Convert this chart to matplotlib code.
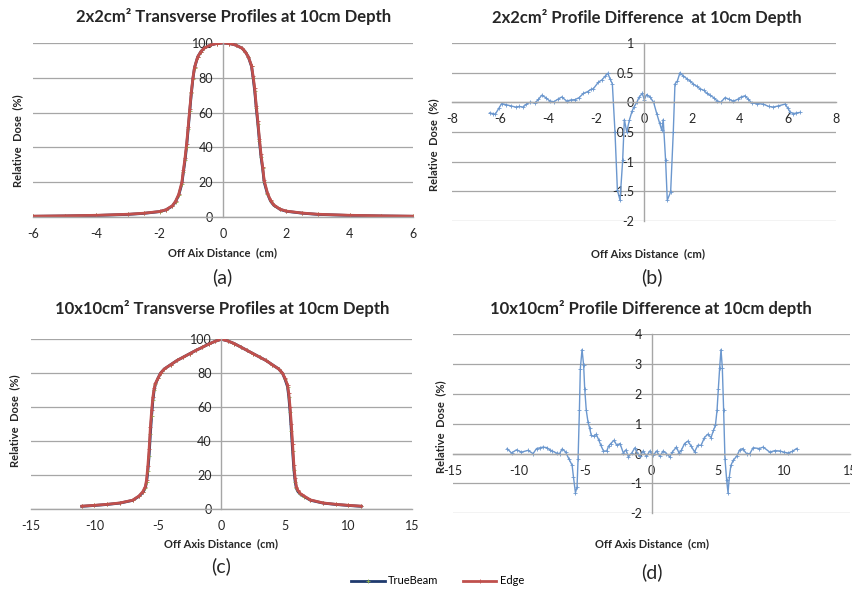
import matplotlib
matplotlib.use('Agg')
import matplotlib.pyplot as plt
from matplotlib.ticker import FormatStrFormatter

plt.rcParams['font.family'] = ['Lato', 'DejaVu Sans']
plt.rcParams['axes.unicode_minus'] = False

# ---- (a) 2x2 cm^2 profiles ----
x_a = [-6.0, -5.0, -4.0, -3.0, -2.5, -2.0, -1.8, -1.6, -1.5, -1.4, -1.3, -1.25, -1.2,
       -1.15, -1.1, -1.05, -1.0, -0.95, -0.9, -0.8, -0.7, -0.6, -0.4, -0.2, 0.0,
       0.2, 0.4, 0.6, 0.7, 0.8, 0.9, 0.95, 1.0, 1.05, 1.1, 1.15, 1.2, 1.25, 1.3,
       1.4, 1.5, 1.6, 1.8, 2.0, 2.5, 3.0, 4.0, 5.0, 6.0]
edge_a = [0.5, 0.7, 1.0, 1.6, 2.2, 3.2, 4.2, 6.5, 9.0, 13, 20, 27, 34,
          42, 52, 62, 72, 80, 86, 92, 95, 97, 98.8, 99.7, 100,
          99.7, 98.8, 97, 95, 92, 87, 81, 74, 64, 55, 45, 36, 29, 21,
          14, 9.5, 7.0, 4.5, 3.4, 2.3, 1.6, 1.0, 0.7, 0.5]
truebeam_a = [0.4, 0.6, 0.9, 1.5, 2.1, 3.1, 4.1, 6.3, 8.8, 12.5, 19, 26, 32.5,
              40.5, 50.5, 61, 71, 79.5, 85.8, 92, 95, 97, 98.8, 99.7, 100,
              99.7, 98.8, 97, 95, 92, 86.5, 80, 72.5, 62.5, 53.5, 43.5, 34.5, 28, 20,
              13.5, 9.2, 6.8, 4.4, 3.3, 2.2, 1.5, 0.9, 0.6, 0.4]

# ---- (b) 2x2 cm^2 difference ----
x_b = [-6.44, -6.3, -6.2, -6.05, -5.93, -5.75, -5.55, -5.35, -5.2, -5.04, -4.9, -4.75,
       -4.54, -4.4, -4.26, -4.1, -3.92, -3.75, -3.6, -3.43, -3.22, -3.05, -2.88, -2.7,
       -2.53, -2.35, -2.2, -2.11, -1.9, -1.75, -1.62, -1.51, -1.42, -1.32, -1.21, -1.11,
       -1.0, -0.89, -0.82, -0.72, -0.61, -0.5, -0.42, -0.3, -0.2, -0.07, 0.01, 0.11,
       0.25, 0.4, 0.53, 0.65, 0.74, 0.8, 0.9, 0.97, 1.11, 1.22, 1.29, 1.39,
       1.5, 1.62, 1.78, 1.92, 2.05, 2.2, 2.33, 2.5, 2.62, 2.75, 2.9, 3.03,
       3.2, 3.38, 3.55, 3.72, 3.9, 4.05, 4.21, 4.35, 4.49, 4.7, 4.97, 5.2,
       5.39, 5.6, 5.88, 6.0, 6.08, 6.22, 6.35, 6.5]
diff_b = [-0.18, -0.19, -0.2, -0.1, -0.02, -0.04, -0.06, -0.08, -0.07, -0.08, -0.03, 0.0,
          -0.01, 0.05, 0.12, 0.08, 0.02, 0.01, 0.05, 0.09, 0.02, 0.04, 0.045, 0.08,
          0.15, 0.18, 0.22, 0.23, 0.34, 0.38, 0.44, 0.49, 0.4, 0.31, -0.5, -1.48,
          -1.65, -0.98, -0.29, -0.5, -0.3, -0.15, -0.08, 0.0, 0.09, 0.15, 0.045, 0.13,
          0.09, 0.0, -0.19, -0.35, -0.47, -0.29, -0.98, -1.65, -1.51, -0.5, 0.31, 0.36,
          0.5, 0.45, 0.4, 0.36, 0.31, 0.27, 0.23, 0.2, 0.15, 0.12, 0.08, 0.03,
          0.0, 0.08, 0.05, 0.02, 0.05, 0.09, 0.11, 0.05, -0.01, -0.02, -0.03, -0.07,
          -0.08, -0.06, -0.03, -0.1, -0.16, -0.19, -0.18, -0.17]

# ---- (c) 10x10 cm^2 profiles ----
x_c = [-11, -10, -9, -8, -7, -6.5, -6.2, -6.0, -5.9, -5.8, -5.7, -5.6, -5.5, -5.4,
       -5.3, -5.2, -5.0, -4.8, -4.5, -4.0, -3.5, -3.0, -2.5, -2.0, -1.5, -1.0, -0.5,
       0.0, 0.5, 1.0, 1.5, 2.0, 2.5, 3.0, 3.5, 4.0, 4.5, 4.8, 5.0, 5.2, 5.3, 5.4,
       5.5, 5.6, 5.7, 5.8, 5.9, 6.0, 6.2, 6.5, 7.0, 8.0, 9.0, 10, 11]
edge_c = [1.5, 2.0, 2.6, 3.4, 5.0, 7.5, 10, 13, 17, 25, 35, 48, 58, 66,
          71, 74, 77, 80, 82.5, 85, 87.5, 89.5, 91.5, 93.5, 95.3, 97.2, 98.8,
          100, 99, 97.5, 95.5, 93.5, 91.5, 89.5, 87.5, 85, 82.5, 80, 77, 73, 68, 60,
          50, 38, 26, 18, 13, 11, 9, 7.5, 5.2, 3.4, 2.6, 2.0, 1.5]
truebeam_c = [1.4, 1.9, 2.5, 3.3, 4.9, 7.3, 9.6, 12.2, 15.5, 22, 31, 44, 55, 64,
              70, 73.5, 77, 80, 82.5, 85, 87.5, 89.5, 91.5, 93.5, 95.3, 97.2, 98.8,
              100, 99, 97.5, 95.5, 93.5, 91.5, 89.5, 87.5, 85, 82.5, 80, 76.5, 72, 66, 57,
              46, 34, 23, 16, 12, 10.3, 8.6, 7.2, 5.0, 3.3, 2.5, 1.9, 1.4]

# ---- (d) 10x10 cm^2 difference ----
x_d = [-10.91, -10.58, -10.2, -9.83, -9.33, -8.95, -8.69, -8.4, -8.19, -7.9, -7.69, -7.5,
       -7.18, -6.95, -6.75, -6.5, -6.25, -6.0, -5.9, -5.75, -5.63, -5.55, -5.45, -5.38,
       -5.25, -5.13, -5.05, -4.93, -4.8, -4.68, -4.55, -4.38, -4.18, -4.0, -3.83, -3.63,
       -3.38, -3.25, -3.08, -2.83, -2.63, -2.38, -2.13, -1.93, -1.75, -1.5, -1.25, -1.05,
       -0.88, -0.63, -0.38, -0.13, 0.13, 0.38, 0.63, 0.88, 1.13, 1.38, 1.58, 1.88,
       2.08, 2.25, 2.5, 2.75, 3.0, 3.25, 3.5, 3.75, 4.0, 4.25, 4.5, 4.68,
       4.83, 4.95, 5.05, 5.15, 5.25, 5.35, 5.45, 5.55, 5.68, 5.78, 5.88, 6.0,
       6.18, 6.43, 6.67, 6.88, 7.18, 7.43, 7.68, 8.13, 8.44, 8.94, 9.3, 9.7,
       10.0, 10.33, 10.65, 10.96]
diff_d = [0.17, 0.02, 0.13, 0.05, 0.11, 0.0, 0.17, 0.2, 0.22, 0.2, 0.13, 0.09,
          0.02, 0.0, 0.16, 0.06, -0.17, -0.39, -0.78, -1.31, -1.12, -0.17, 1.45, 2.85,
          3.49, 2.96, 2.18, 1.45, 1.06, 0.86, 0.61, 0.58, 0.65, 0.47, 0.28, 0.09,
          0.09, 0.25, 0.34, 0.45, 0.28, 0.34, 0.02, 0.13, -0.11, 0.02, 0.2, 0.0,
          -0.09, 0.09, -0.09, 0.09, -0.06, 0.09, -0.09, 0.09, 0.0, -0.11, 0.06, 0.22,
          0.02, 0.11, 0.34, 0.42, 0.25, 0.06, 0.28, 0.28, 0.54, 0.65, 0.54, 0.78,
          0.95, 1.45, 2.18, 2.88, 3.49, 2.88, 1.45, -0.17, -0.89, -1.31, -0.78, -0.39,
          -0.22, -0.09, 0.13, 0.17, 0.0, 0.0, 0.2, 0.17, 0.22, 0.05, 0.1, 0.09,
          0.05, 0.02, 0.08, 0.17]

GRID = '#A6A6A6'
NAVY = '#1F3A6E'
GREEN = '#8DB04A'
RED = '#C0504D'
BLUE = '#6B97CE'
TXT = '#262626'


def excel_axes(ax, xlim, ylim, xticks, yticks):
    ''' Excel-like look: axes crossing at zero, horizontal gridlines only. '''
    ax.set_xlim(*xlim)
    ax.set_ylim(*ylim)
    ax.set_xticks(xticks)
    ax.set_yticks(yticks)
    ax.xaxis.set_major_formatter(FormatStrFormatter('%g'))
    ax.yaxis.set_major_formatter(FormatStrFormatter('%g'))
    for s in ['top', 'right']:
        ax.spines[s].set_visible(False)
    ax.spines['left'].set_position(('data', 0))
    ax.spines['bottom'].set_position(('data', 0))
    for s in ['left', 'bottom']:
        ax.spines[s].set_color(GRID)
        ax.spines[s].set_linewidth(1.0)
    ax.tick_params(length=0, labelsize=9, labelcolor=TXT)
    ax.tick_params(axis='x', pad=8)
    ax.tick_params(axis='y', pad=7)
    ax.yaxis.grid(True, color=GRID, lw=0.9)
    ax.set_axisbelow(True)


fig = plt.figure(figsize=(8.53, 5.92), dpi=100)

ax_a = fig.add_axes([0.0387, 0.6334, 0.4455, 0.294])
ax_b = fig.add_axes([0.530, 0.6267, 0.450, 0.3007])
ax_c = fig.add_axes([0.0363, 0.1407, 0.4467, 0.2862])
ax_d = fig.add_axes([0.5311, 0.1329, 0.4654, 0.3024])

excel_axes(ax_a, (-6, 6), (0, 100), range(-6, 7, 2), range(0, 101, 20))
ax_a.plot(x_a, truebeam_a, color=NAVY, lw=2, marker='+', ms=2.5, mec=GREEN, mew=0.6)
ax_a.plot(x_a, edge_a, color=RED, lw=2, marker='+', ms=2.5, mec=RED, mew=0.6)

excel_axes(ax_b, (-8, 8), (-2, 1), range(-8, 9, 2), [-2, -1.5, -1, -0.5, 0, 0.5, 1])
ax_b.plot(x_b, diff_b, color=BLUE, lw=1, marker='+', ms=2.5, mew=0.6)

excel_axes(ax_c, (-15, 15), (0, 100), range(-15, 16, 5), range(0, 101, 20))
tb_line, = ax_c.plot(x_c, truebeam_c, color=NAVY, lw=2, marker='+', ms=2.5,
                     mec=GREEN, mew=0.6)
ed_line, = ax_c.plot(x_c, edge_c, color=RED, lw=2, marker='+', ms=2.5, mec=RED, mew=0.6)

excel_axes(ax_d, (-15, 15), (-2, 4), range(-15, 16, 5), range(-2, 5, 1))
ax_d.plot(x_d, diff_d, color=BLUE, lw=1, marker='+', ms=2.5, mew=0.6)

titles = [
    (0.274, 0.972, '2x2cm² Transverse Profiles at 10cm Depth'),
    (0.758, 0.970, '2x2cm² Profile Difference  at 10cm Depth'),
    (0.260, 0.479, '10x10cm² Transverse Profiles at 10cm Depth'),
    (0.763, 0.479, '10x10cm² Profile Difference at 10cm depth'),
]
for tx, ty, t in titles:
    fig.text(tx, ty, t, ha='center', va='center', fontsize=12,
             fontweight='bold', color=TXT)

xlabels = [
    (0.261, 0.574, 'Off Aix Distance  (cm)'),
    (0.760, 0.572, 'Off Aixs Distance  (cm)'),
    (0.259, 0.081, 'Off Axis Distance  (cm)'),
    (0.764, 0.081, 'Off Axis Distance  (cm)'),
]
for tx, ty, t in xlabels:
    fig.text(tx, ty, t, ha='center', va='center', fontsize=8, fontweight='bold',
             color=TXT)

ylabels = [(0.021, 0.762), (0.508, 0.755), (0.017, 0.29), (0.517, 0.279)]
for tx, ty in ylabels:
    fig.text(tx, ty, 'Relative  Dose  (%)', ha='center', va='center', rotation=90,
             fontsize=8, fontweight='bold', color=TXT)

panels = [(0.261, 0.532, '(a)'), (0.764, 0.532, '(b)'),
          (0.259, 0.044, '(c)'), (0.764, 0.034, '(d)')]
for tx, ty, t in panels:
    fig.text(tx, ty, t, ha='center', va='center', fontsize=14, color=TXT)

fig.legend([tb_line, ed_line], ['TrueBeam', 'Edge'], loc='center',
           bbox_to_anchor=(0.513, 0.0186), ncol=2, frameon=False, fontsize=8,
           handlelength=3, columnspacing=2.2, handletextpad=0.3)

fig.savefig('out.png', dpi=100)
